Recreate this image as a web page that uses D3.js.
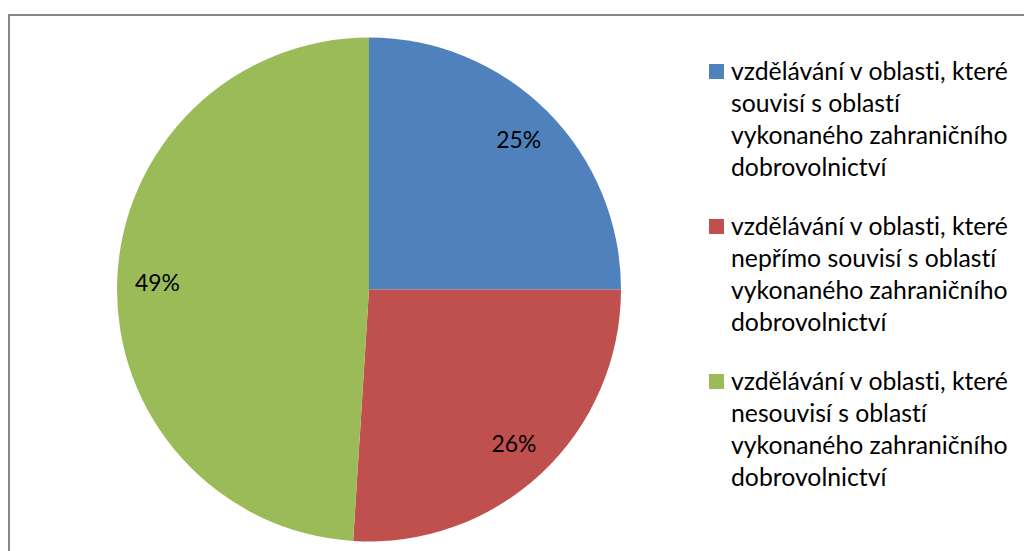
<!DOCTYPE html>
<html>
<head>
<meta charset="utf-8">
<script src="https://cdn.jsdelivr.net/npm/d3@7"></script>
<style>
  html, body { margin: 0; padding: 0; background: #fff; overflow: hidden; }
  svg { display: block; }
  text { font-variant-ligatures: none; font-feature-settings: "liga" 0; }
</style>
</head>
<body>
<svg id="chart" width="1024" height="551"></svg>
<script>
// ---- data ----
const categories = [
  "vzdělávání v oblasti, které souvisí s oblastí vykonaného zahraničního dobrovolnictví",
  "vzdělávání v oblasti, které nepřímo souvisí s oblastí vykonaného zahraničního dobrovolnictví",
  "vzdělávání v oblasti, které nesouvisí s oblastí vykonaného zahraničního dobrovolnictví"
];
const legendLines = [
  ["vzdělávání v oblasti, které", "souvisí s oblastí", "vykonaného zahraničního", "dobrovolnictví"],
  ["vzdělávání v oblasti, které", "nepřímo souvisí s oblastí", "vykonaného zahraničního", "dobrovolnictví"],
  ["vzdělávání v oblasti, které", "nesouvisí s oblastí", "vykonaného zahraničního", "dobrovolnictví"]
];
const values = [25, 26, 49];
const valueLabels = ["25%", "26%", "49%"];
const colors = ["#4F81BD", "#C0504D", "#9BBB59"];

// ---- layout ----
const W = 1024, H = 551;
const cx = 369, cy = 289.5, R = 252;
const FONT = "Lato, 'Open Sans', 'DejaVu Sans', sans-serif";

const svg = d3.select("#chart");

// outer chart border (extends beyond the visible window)
svg.append("rect")
  .attr("x", 9).attr("y", 15)
  .attr("width", W + 20).attr("height", H + 20)
  .attr("fill", "#fff")
  .attr("stroke", "#868686")
  .attr("stroke-width", 2);

const pie = d3.pie().sort(null).value(d => d)
  .startAngle(0).endAngle(2 * Math.PI);
const arcs = pie(values);
const arc = d3.arc().innerRadius(0).outerRadius(R);
const labelArc = d3.arc().innerRadius(R * 0.84).outerRadius(R * 0.84);

const g = svg.append("g").attr("transform", `translate(${cx},${cy})`);
g.selectAll("path.slice")
  .data(arcs)
  .join("path")
  .attr("class", "slice")
  .attr("d", arc)
  .attr("fill", (d, i) => colors[i]);

// helper to fit font size to a target width
function fitSize(text, targetWidth, base) {
  const t = svg.append("text").attr("font-family", FONT).attr("font-size", base).text(text);
  const w = t.node().getComputedTextLength();
  t.remove();
  return base * targetWidth / w;
}

const labelSize = fitSize("25%", 45, 20);
g.selectAll("text.vlabel")
  .data(arcs)
  .join("text")
  .attr("class", "vlabel")
  .attr("x", d => labelArc.centroid(d)[0])
  .attr("y", d => labelArc.centroid(d)[1])
  .attr("dy", "0.35em")
  .attr("text-anchor", "middle")
  .attr("font-family", FONT)
  .attr("font-size", labelSize)
  .attr("fill", "#000")
  .text((d, i) => valueLabels[i]);

// legend
const legendSize = fitSize("vzdělávání v oblasti, které", 277, 20);
const legX = 709, textX = 731;
const firstBase = 80, entryStep = 155, lineStep = 32;

const leg = svg.append("g");
const items = leg.selectAll("g.item")
  .data(categories)
  .join("g")
  .attr("class", "item")
  .attr("transform", (d, i) => `translate(0,${firstBase + i * entryStep})`);

items.append("rect")
  .attr("x", legX).attr("y", -16)
  .attr("width", 15).attr("height", 15)
  .attr("fill", (d, i) => colors[i]);

items.each(function(d, i) {
  d3.select(this).selectAll("text")
    .data(legendLines[i])
    .join("text")
    .attr("x", textX)
    .attr("y", (l, j) => j * lineStep)
    .attr("font-family", FONT)
    .attr("font-size", legendSize)
    .attr("fill", "#000")
    .text(l => l);
});
</script>
</body>
</html>
